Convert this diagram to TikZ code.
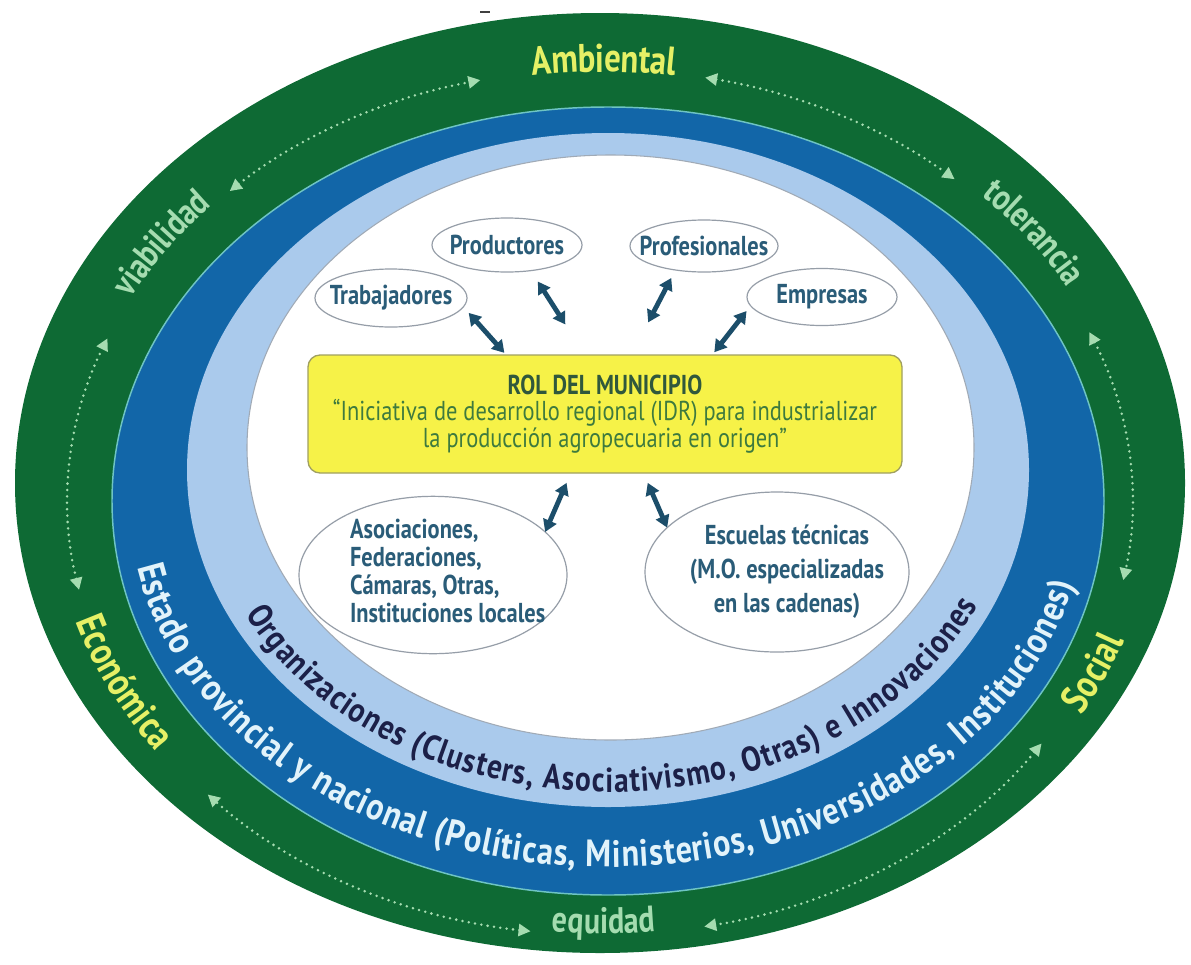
\documentclass[tikz,border=0pt]{standalone}
\usepackage{fontspec}
\setmainfont{PT Sans}[FakeStretch=0.82]
\newfontfamily\ringfont{PT Sans}[FakeStretch=0.85]
\usetikzlibrary{shapes.geometric,arrows.meta,decorations.text}

\definecolor{ringgreen}{RGB}{14,106,52}
\definecolor{ringblue}{RGB}{18,102,168}
\definecolor{ringsky}{RGB}{170,202,236}
\definecolor{seam}{RGB}{110,196,196}
\definecolor{innerline}{RGB}{160,170,182}
\definecolor{labyellow}{RGB}{230,240,102}
\definecolor{labgreen}{RGB}{165,220,176}
\definecolor{statetext}{RGB}{226,243,250}
\definecolor{orgtext}{RGB}{28,32,72}
\definecolor{bubtext}{RGB}{42,92,120}
\definecolor{bubline}{RGB}{150,158,168}
\definecolor{arrowc}{RGB}{28,78,106}
\definecolor{boxfill}{RGB}{246,242,72}
\definecolor{boxline}{RGB}{160,160,96}
\definecolor{roltitle}{RGB}{48,88,60}
\definecolor{roltext}{RGB}{62,122,62}

% formats for the words set along the rings
\newcommand\ylab{\fontsize{30}{30}\selectfont\bfseries\color{labyellow}}
\newcommand\glab{\fontsize{27.5}{27.5}\selectfont\bfseries\color{labgreen}}
\newcommand\statefont{\ringfont\fontsize{28.5}{28.5}\selectfont\bfseries\color{statetext}}
\newcommand\orgfont{\ringfont\fontsize{26}{26}\selectfont\bfseries\color{orgtext}}

\begin{document}
\begin{tikzpicture}[x=0.75pt,y=-0.75pt,
  bub/.style={ellipse, draw=bubline, line width=0.9pt, inner sep=0pt, outer sep=0pt,
    text=bubtext, font=\fontsize{20.5}{20.8}\selectfont\bfseries},
  link/.style={draw=arrowc, line width=3.6pt,
    {Triangle[length=9pt,width=10.5pt]}-{Triangle[length=9pt,width=10.5pt]}},
  dotlink/.style={draw=labgreen, line width=2.1pt, line cap=round,
    dash pattern=on 0pt off 4.8pt,
    {Triangle[length=9pt,width=9pt]}-{Triangle[length=9pt,width=9pt]}},
  ringtext/.style={decorate, decoration={text along path, text align=center, #1}},
]
\useasboundingbox (0,0) rectangle (1191,964);

% nested rings
\fill[ringgreen] (600,483) ellipse [x radius=585, y radius=470];
\filldraw[fill=ringblue, draw=seam, line width=1.1pt] (608,501) ellipse [x radius=496, y radius=394];
\fill[ringsky] (608,470) ellipse [x radius=421, y radius=337];
\filldraw[fill=white, draw=innerline, line width=0.8pt] (610.5,447.5) ellipse [x radius=363.5, y radius=292.5];

% small mark above the rings
\draw[line width=2pt, black!75] (480,12) -- (490,12);

% end points of the dotted double arrows (ellipse through the green ring)
\foreach \nm/\a in {d1/225.9, d2/281.4, d3/336.9, d4/33.9, d5/97.5, d6/168.3}
  \coordinate (\nm) at ({600+532*cos(\a)},{502+433*sin(\a)});

\draw[dotlink] (d1) arc[start angle=225.9, end angle=257,   x radius=532, y radius=433];
\draw[dotlink] (d2) arc[start angle=281.4, end angle=311.8, x radius=532, y radius=433];
\draw[dotlink] (d3) arc[start angle=336.9, end angle=370.4, x radius=532, y radius=433];
\draw[dotlink] (d4) arc[start angle=33.9,  end angle=78.7,  x radius=532, y radius=433];
\draw[dotlink] (d5) arc[start angle=97.5,  end angle=137.5, x radius=532, y radius=433];
\draw[dotlink] (d6) arc[start angle=168.3, end angle=202.2, x radius=532, y radius=433];

% starting points of the label paths along the middle of the green ring
\foreach \nm/\a in {m1/240, m2/300, m3/190, m4/46, m5/112, m6/178}
  \coordinate (\nm) at ({604+540*cos(\a)},{492+432*sin(\a)});

\path[ringtext={text={|\ylab|Ambiental}, raise=-9pt}]
  (m1) arc[start angle=240, end angle=300, x radius=540, y radius=432];
\path[ringtext={text={|\glab|tolerancia}, raise=-7.5pt}]
  (m2) arc[start angle=300, end angle=348, x radius=540, y radius=432];
\path[ringtext={text={|\glab|viabilidad}, raise=-6pt}]
  (m3) arc[start angle=190, end angle=238, x radius=540, y radius=432];
\path[ringtext={text={|\ylab|Social}, raise=-9pt}]
  (m4) arc[start angle=46, end angle=2, x radius=540, y radius=432];
\path[ringtext={text={|\glab|equidad}, raise=-7pt}]
  (m5) arc[start angle=112, end angle=68, x radius=540, y radius=432];
\path[ringtext={text={|\ylab|Económica}, raise=-9pt}]
  (m6) arc[start angle=178, end angle=131, x radius=540, y radius=432];

% texts of the blue and light blue rings
\coordinate (s0) at ({608+479*cos(169.4)},{500+367*sin(169.4)});
\path[decorate, decoration={text along path, text align=fit to path,
    text={|\statefont|Estado provincial y nacional (Políticas, Ministerios, Universidades, Instituciones)}}]
  (s0) arc[start angle=169.4, end angle=13.3, x radius=479, y radius=367];

\coordinate (o0) at ({609+403*cos(154.5)},{480+312*sin(154.5)});
\path[decorate, decoration={text along path, text align=fit to path,
    text={|\orgfont|Organizaciones (Clusters, Asociativismo, Otras) e Innovaciones}}]
  (o0) arc[start angle=154.5, end angle=23.8, x radius=403, y radius=312];

% central box
\node[draw=boxline, fill=boxfill, line width=1pt, rounded corners=9pt,
      minimum width=445.5pt, minimum height=88.5pt, inner sep=0pt, align=center,
      text=roltext, font=\fontsize{20.5}{20}\selectfont] (rol) at (605,414)
  {{\bfseries\color{roltitle}ROL DEL MUNICIPIO}\\
   “Iniciativa de desarrollo regional (IDR) para industrializar\\
   la producción agropecuaria en origen”};

% actors around the box
\node[bub, minimum width=114pt,   minimum height=43.5pt] (trab) at (391,298) {\makebox[0pt]{Trabajadores}};
\node[bub, minimum width=112.5pt, minimum height=40.5pt] (prod) at (507,245) {\makebox[0pt]{Productores}};
\node[bub, minimum width=111pt,   minimum height=39pt]   (prof) at (704,246) {\makebox[0pt]{Profesionales}};
\node[bub, minimum width=112.5pt, minimum height=42.75pt] (emp) at (822,297) {\makebox[0pt]{Empresas}};
\node[bub, minimum width=201pt, minimum height=117pt] (asoc) at (433,575)
  {\makebox[0pt]{\hspace{22pt}\begin{tabular}{@{}l@{}}Asociaciones,\\ Federaciones,\\ Cámaras, Otras,\\ Instituciones locales\end{tabular}}};
\node[bub, minimum width=198pt, minimum height=120pt, font=\fontsize{20.5}{25.5}\selectfont\bfseries] (esc) at (777,572)
  {\makebox[0pt]{\hspace{15pt}\begin{tabular}{@{}c@{}}Escuelas técnicas\\ (M.O. especializadas\\ en las cadenas)\end{tabular}}};

% two-way links with the box
\draw[link, shorten <=6pt, shorten >=1.5pt] (trab.-7) -- (rol.149.7);
\draw[link, shorten <=9.75pt, shorten >=26.6pt] (prod.-47.3) -- (rol.109.6);
\draw[link, shorten <=6.75pt, shorten >=27pt] (prof.220.6) -- (rol.66.2);
\draw[link, shorten <=5pt, shorten >=2pt] (emp.187.8) -- (rol.29.6);
\draw[link, shorten >=7.5pt] (asoc.21.5) -- (rol.240);
\draw[link, shorten >=7.5pt] (esc.158.2) -- (rol.-57.9);
\end{tikzpicture}
\end{document}
